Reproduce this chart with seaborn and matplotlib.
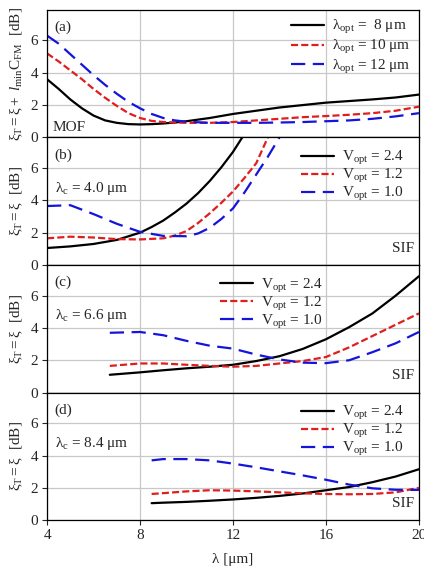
import numpy as np
import pandas as pd
import matplotlib
matplotlib.use("Agg")
import matplotlib.pyplot as plt
import seaborn as sns

sns.set_theme(style="ticks")
plt.rcParams['font.family'] = ['Liberation Serif', 'DejaVu Serif']
plt.rcParams['mathtext.fontset'] = 'custom'
plt.rcParams['mathtext.rm'] = 'Liberation Serif'
plt.rcParams['mathtext.it'] = 'Liberation Serif:italic'
plt.rcParams['mathtext.bf'] = 'Liberation Serif:bold'

# (a) MOF
lam_a = [4, 4.5, 5, 5.5, 6, 6.5, 7, 7.5, 8, 8.5, 9, 9.5, 10, 11, 12, 13, 14, 15, 16, 17, 18, 19, 20]
a_opt8 = [3.6, 3.0, 2.35, 1.8, 1.35, 1.05, 0.9, 0.82, 0.8, 0.82, 0.86, 0.92, 1.0,
          1.2, 1.45, 1.65, 1.85, 2.0, 2.15, 2.25, 2.35, 2.47, 2.65]
a_opt10 = [5.2, 4.7, 4.15, 3.6, 3.0, 2.45, 1.95, 1.5, 1.2, 1.02, 0.95, 0.92, 0.9,
           0.9, 0.95, 1.05, 1.15, 1.25, 1.32, 1.4, 1.5, 1.65, 1.9]
a_opt12 = [6.3, 5.8, 5.15, 4.5, 3.85, 3.25, 2.7, 2.2, 1.8, 1.45, 1.2, 1.05, 0.97,
           0.9, 0.9, 0.9, 0.92, 0.95, 1.0, 1.05, 1.15, 1.3, 1.5]

# (b) SIF, lambda_c = 4.0
lam_b1 = [4, 5, 6, 7, 8, 8.5, 9, 9.5, 10, 10.5, 11, 11.5, 12, 12.4]
b_v24 = [1.05, 1.15, 1.3, 1.55, 2.0, 2.35, 2.75, 3.25, 3.8, 4.45, 5.2, 6.05, 7.0, 7.9]
lam_b2 = [4, 5, 6, 7, 8, 9, 9.5, 10, 10.5, 11, 11.5, 12, 12.5, 13, 13.5]
b_v12 = [1.65, 1.75, 1.7, 1.6, 1.58, 1.65, 1.82, 2.1, 2.6, 3.2, 3.85, 4.55, 5.4, 6.3, 7.9]
lam_b3 = [4, 5, 6, 7, 8, 9, 10, 10.5, 11, 11.5, 12, 12.5, 13, 13.5, 14]
b_v10 = [3.65, 3.7, 3.15, 2.55, 2.05, 1.8, 1.78, 1.95, 2.3, 2.85, 3.5, 4.5, 5.6, 6.7, 7.9]

# (c) SIF, lambda_c = 6.6
lam_c = [6.7, 8, 9, 10, 11, 12, 13, 14, 15, 16, 17, 18, 19, 20]
c_v24 = [1.1, 1.25, 1.38, 1.5, 1.6, 1.72, 1.95, 2.25, 2.7, 3.3, 4.05, 4.9, 6.0, 7.2]
c_v12 = [1.65, 1.8, 1.8, 1.72, 1.65, 1.6, 1.65, 1.8, 1.95, 2.2, 2.8, 3.5, 4.2, 4.9]
c_v10 = [3.7, 3.75, 3.55, 3.2, 2.9, 2.72, 2.35, 2.05, 1.85, 1.82, 2.0, 2.5, 3.05, 3.75]

# (d) SIF, lambda_c = 8.4
lam_d = [8.5, 9, 10, 11, 12, 13, 14, 15, 16, 17, 18, 19, 20]
d_v24 = [1.05, 1.08, 1.13, 1.2, 1.28, 1.38, 1.5, 1.65, 1.85, 2.05, 2.35, 2.7, 3.15]
d_v12 = [1.62, 1.67, 1.78, 1.85, 1.83, 1.78, 1.72, 1.66, 1.62, 1.6, 1.62, 1.72, 2.0]
d_v10 = [3.7, 3.78, 3.78, 3.7, 3.5, 3.27, 3.02, 2.77, 2.5, 2.2, 1.97, 1.88, 1.87]

mof_labels = [r"$\mathrm{λ_{opt}}$ =  8 μm", r"$\mathrm{λ_{opt}}$ = 10 μm", r"$\mathrm{λ_{opt}}$ = 12 μm"]
sif_labels = [r"$\mathrm{V_{opt}}$ = 2.4", r"$\mathrm{V_{opt}}$ = 1.2", r"$\mathrm{V_{opt}}$ = 1.0"]
lam_cut = ["4.0", "6.6", "8.4"]

colors = ["black", "#e01e1e", "#1414dc"]
styles = ["-", (0, (3.2, 1.4)), (0, (6.4, 3.4))]

panels = [
    [(lam_a, a_opt8), (lam_a, a_opt10), (lam_a, a_opt12)],
    [(lam_b1, b_v24), (lam_b2, b_v12), (lam_b3, b_v10)],
    [(lam_c, c_v24), (lam_c, c_v12), (lam_c, c_v10)],
    [(lam_d, d_v24), (lam_d, d_v12), (lam_d, d_v10)],
]

fig = plt.figure(figsize=(4.24, 5.76), dpi=100)
axes = fig.subplots(4, 1, sharex=True)
fig.subplots_adjust(left=0.111, right=0.988, bottom=0.097, top=0.983, hspace=0)

fs = 11
for i, ax in enumerate(axes):
    labels = mof_labels if i == 0 else sif_labels
    for (x, y), c, ls, lab in zip(panels[i], colors, styles, labels):
        sns.lineplot(x=x, y=y, ax=ax, color=c, linestyle=ls, lw=1.6, label=lab)
    ax.set_xlim(4, 20)
    ax.set_ylim(0, 7.9)
    ax.set_xticks([4, 8, 12, 16, 20])
    ax.set_yticks([0, 2, 4, 6])
    ax.grid(True, color="#c8c8c8", lw=0.9)
    ax.tick_params(direction="out", length=3.5, width=0.8, labelsize=fs, pad=3)
    for s in ax.spines.values():
        s.set_color("black")
        s.set_linewidth(0.9)
    ax.text(4.3, 6.8, "(%s)" % "abcd"[i], fontsize=fs, va="center", ha="left")
    if i == 0:
        ax.set_ylabel(r"$\mathrm{ξ_T = ξ +}\ l_\mathrm{min}\mathrm{C_{FM}}$  [dB]", fontsize=fs)
        ax.text(4.25, 0.6, "MOF", fontsize=fs, va="center", ha="left")
        ax.legend(loc="upper right", frameon=False, fontsize=fs, handlelength=2.2,
                  handletextpad=0.5, labelspacing=0.12, borderaxespad=0.15)
    else:
        ax.set_ylabel(r"$\mathrm{ξ_T = ξ}$  [dB]", fontsize=fs)
        ax.text(19.8, 1.05, "SIF", fontsize=fs, va="center", ha="right")
        ax.text(4.35, 4.75, r"$\mathrm{λ_c}$ = %s μm" % lam_cut[i - 1], fontsize=fs, va="center", ha="left")
        if i == 2:
            ax.legend(loc="upper left", bbox_to_anchor=(0.44, 0.98), frameon=False, fontsize=fs,
                      handlelength=2.2, handletextpad=0.5, labelspacing=0.0, borderaxespad=0.2)
        else:
            ax.legend(loc="upper right", bbox_to_anchor=(0.985, 0.98), frameon=False, fontsize=fs,
                      handlelength=2.2, handletextpad=0.5, labelspacing=0.0, borderaxespad=0.2)
    ax.set_xlabel("")

axes[-1].set_xlabel("λ [μm]", fontsize=fs, labelpad=8)
fig.align_ylabels(axes)
fig.savefig("out.png", dpi=100)
